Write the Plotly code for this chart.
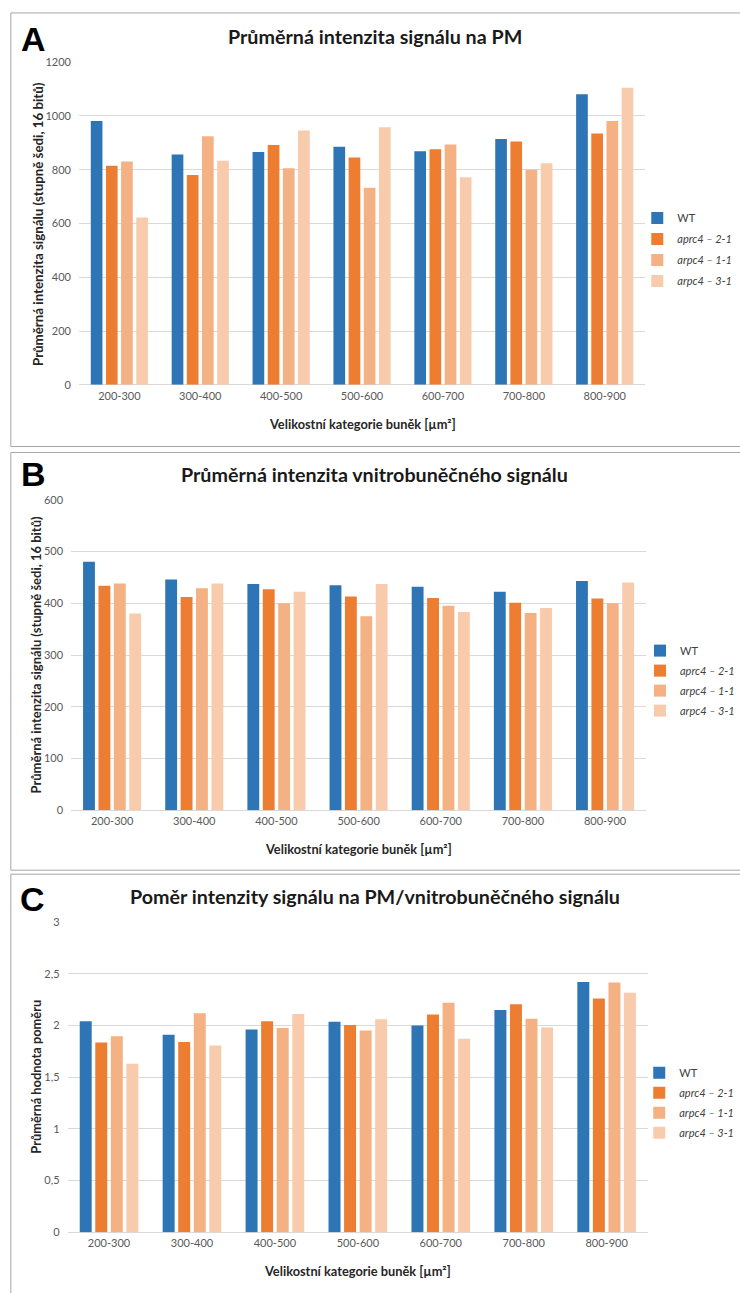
import plotly.graph_objects as go

W, H = 740, 1293

categories = ["200-300", "300-400", "400-500", "500-600", "600-700", "700-800", "800-900"]
series_names = ["WT", "<i>aprc4 – 2-1</i>", "<i>arpc4 – 1-1</i>", "<i>arpc4 – 3-1</i>"]
colors = ["#2E75B6", "#ED7D31", "#F4B183", "#F8CBAD"]

# Panel A – mean signal intensity at PM
pm_wt = [981, 857, 866, 885, 869, 914, 1081]
pm_21 = [815, 780, 892, 845, 876, 905, 935]
pm_11 = [831, 924, 805, 733, 894, 800, 981]
pm_31 = [622, 833, 946, 958, 772, 824, 1105]

# Panel B – mean intracellular signal intensity
ic_wt = [480, 446, 437, 435, 432, 422, 443]
ic_21 = [434, 412, 427, 413, 410, 401, 409]
ic_11 = [438, 429, 400, 375, 395, 381, 400]
ic_31 = [380, 438, 422, 437, 383, 391, 440]

# Panel C – ratio PM / intracellular
r_wt = [2.04, 1.91, 1.96, 2.035, 2.00, 2.15, 2.42]
r_21 = [1.835, 1.84, 2.04, 2.005, 2.105, 2.205, 2.26]
r_11 = [1.895, 2.117, 1.975, 1.95, 2.22, 2.065, 2.415]
r_31 = [1.63, 1.806, 2.11, 2.06, 1.87, 1.98, 2.315]

titles = ["Průměrná intenzita signálu na PM",
          "Průměrná intenzita vnitrobuněčného signálu",
          "Poměr intenzity signálu na PM/vnitrobuněčného signálu"]
ytitles = ["Průměrná intenzita signálu (stupně šedi, 16 bitů)",
           "Průměrná intenzita signálu (stupně šedi, 16 bitů)",
           "Průměrná hodnota poměru"]
xtitle = "Velikostní kategorie buněk [µm²]"
letters = ["A", "B", "C"]
yranges = [[0, 1200], [0, 600], [0, 3]]
ydticks = [200, 100, 0.5]

panels = [[pm_wt, pm_21, pm_11, pm_31],
          [ic_wt, ic_21, ic_11, ic_31],
          [r_wt, r_21, r_11, r_31]]

# layout geometry in pixels
plot_px = [  # x0, x1, ytop, ybottom
    (80, 654, 55.7, 381.7),
    (72, 655, 497.7, 811.5),
    (68.5, 657, 924.3, 1237.7),
]
box_px = [(11, 6, 444), (11, 450, 872), (11, 876, 1310)]
title_y = [30, 472, 899]
letter_xy = [(34, 32), (34, 472), (33, 901)]
xtitle_y = [421, 851, 1277]
ytitle_x = [38, 37, 37]
ytitle_size = [13.3, 13.0, 12.8]
legend_px = [(646, 198.5), (649, 635.5), (648, 1062)]
legend_gap = [2, 1, 1]

FONT = "Lato"

def px_x(x):
    return x / W

def px_y(y):
    return 1 - y / H

fig = go.Figure()

for p in range(3):
    ax = "" if p == 0 else str(p + 1)
    leg = "legend" if p == 0 else f"legend{p + 1}"
    for s in range(4):
        fig.add_trace(go.Bar(
            x=categories, y=panels[p][s], name=series_names[s],
            marker=dict(color=colors[s], line=dict(width=0)),
            xaxis="x" + ax, yaxis="y" + ax, legend=leg,
            legendgroup=f"g{p}{s}",
        ))

layout = dict(
    width=W, height=H, autosize=False,
    margin=dict(l=0, r=0, t=0, b=0),
    paper_bgcolor="white", plot_bgcolor="white",
    barmode="group", bargap=0.25, bargroupgap=0.23,
    separators=", ",
    font=dict(family=FONT, color="#595959"),
    showlegend=True,
)

annotations = []
shapes = []
for p in range(3):
    ax = "" if p == 0 else str(p + 1)
    x0, x1, yt, yb = plot_px[p]
    layout["xaxis" + ax] = dict(
        domain=[px_x(x0), px_x(x1)], anchor="y" + ax,
        showgrid=False, showline=False, ticks="",
        tickfont=dict(size=11, color="#595959", family=FONT),
        ticklabelstandoff=3, fixedrange=True,
    )
    layout["yaxis" + ax] = dict(
        domain=[px_y(yb), px_y(yt)], anchor="x" + ax,
        range=yranges[p], dtick=ydticks[p], tick0=0,
        showgrid=True, gridcolor="#D9D9D9", gridwidth=1,
        zeroline=True, zerolinecolor="#D9D9D9", zerolinewidth=1,
        showline=False, ticks="",
        tickfont=dict(size=11, color="#595959", family=FONT),
        ticklabelstandoff=7, fixedrange=True,
    )
    leg = "legend" if p == 0 else f"legend{p + 1}"
    lx, ly = legend_px[p]
    layout[leg] = dict(
        x=px_x(lx), y=px_y(ly), xanchor="left", yanchor="top",
        bgcolor="rgba(0,0,0,0)", borderwidth=0,
        font=dict(size=11, color="#404040", family=FONT),
        tracegroupgap=legend_gap[p], traceorder="grouped",
    )
    cx = (x0 + x1) / 2
    annotations.append(dict(
        text=f"<b>{titles[p]}</b>", x=px_x(380), y=px_y(title_y[p]),
        xref="paper", yref="paper", showarrow=False,
        xanchor="center", yanchor="middle",
        font=dict(size=19.7, color="#1a1a1a", family=FONT),
    ))
    annotations.append(dict(
        text=f"<b>{letters[p]}</b>", x=px_x(letter_xy[p][0]), y=px_y(letter_xy[p][1]),
        xref="paper", yref="paper", showarrow=False,
        xanchor="center", yanchor="middle",
        font=dict(size=34, color="#000000", family="Liberation Sans"),
    ))
    annotations.append(dict(
        text=f"<b>{xtitle}</b>", x=px_x(cx), y=px_y(xtitle_y[p]),
        xref="paper", yref="paper", showarrow=False,
        xanchor="center", yanchor="middle",
        font=dict(size=12.8, color="#262626", family=FONT),
    ))
    annotations.append(dict(
        text=f"<b>{ytitles[p]}</b>", x=px_x(ytitle_x[p]), y=px_y((yt + yb) / 2),
        xref="paper", yref="paper", showarrow=False, textangle=-90,
        xanchor="center", yanchor="middle",
        font=dict(size=ytitle_size[p], color="#262626", family=FONT),
    ))
    bx, by0, by1 = box_px[p]
    shapes.append(dict(
        type="rect", xref="paper", yref="paper",
        x0=px_x(bx), x1=1.05, y0=px_y(by1), y1=px_y(by0),
        line=dict(color="#A6A6A6", width=1), fillcolor="rgba(0,0,0,0)",
        layer="below",
    ))

layout["annotations"] = annotations
layout["shapes"] = shapes
fig.update_layout(**layout)

fig.write_html(
    "out.html",
    config={"displayModeBar": False},
    post_script="document.body.style.margin='0';document.body.style.overflow='hidden';"
                "document.documentElement.style.overflow='hidden';",
)
